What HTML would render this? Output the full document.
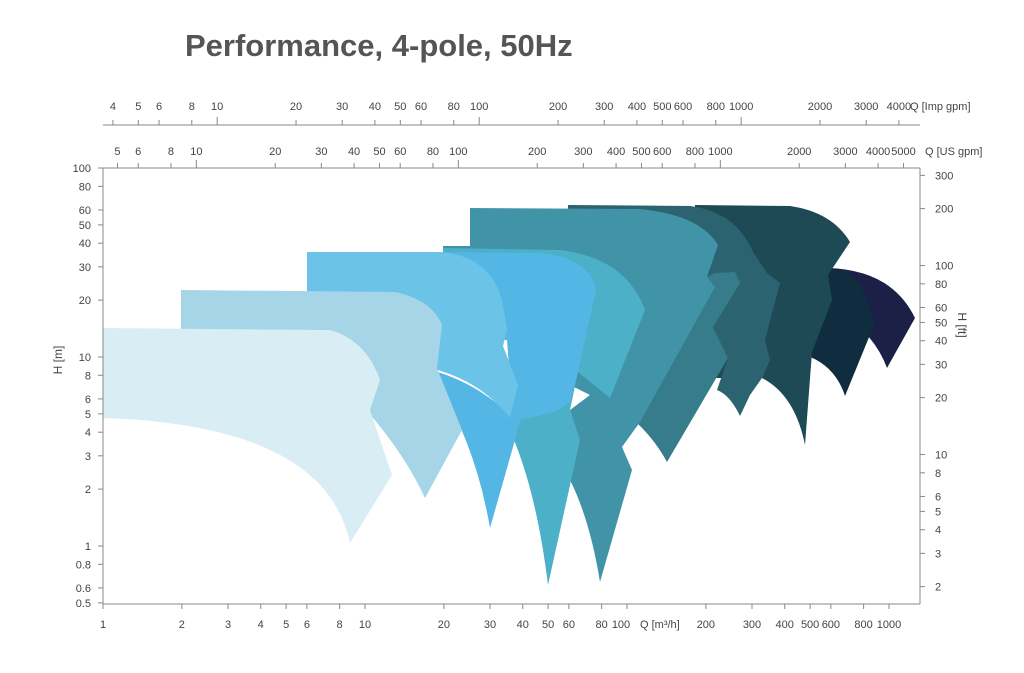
<!DOCTYPE html>
<html><head><meta charset="utf-8"><style>
body{margin:0;background:#fff;}
svg{display:block;font-family:"Liberation Sans",sans-serif;}
.t{font-size:11px;fill:#444;}
</style></head><body>
<svg width="1024" height="673" viewBox="0 0 1024 673" xmlns="http://www.w3.org/2000/svg">
<text x="185" y="56" style="font-size:31px;font-weight:bold;fill:#555">Performance, 4-pole, 50Hz</text>
<g stroke="none">
<path fill="#1c1f46" d="M828,268 Q892,270 915,318 L887,368 Q875,335 840,312 Z"/>
<path fill="#0f2d3f" d="M800,268 L845,270 Q866,285 874,325 L845,396 Q835,365 805,355 L790,320 Z"/>
<path fill="#1e4a55" d="M695,205 L790,206 Q832,212 850,242 L828,275 L832,300 L812,352 L805,445 Q795,395 762,378 L700,378 L695,268 Z"/>
<path fill="#2b6370" d="M568,205 L690,206 Q736,212 753,252 L767,273 L780,283 L765,340 L770,360 L762,378 L750,395 L740,416 Q730,395 717,390 L728,358 L713,327 L700,300 L568,300 Z"/>
<path fill="#367c8a" d="M637,423 L707,277 L715,273 L735,272 L740,283 L713,327 L728,358 L667,462 Q655,440 637,423 Z"/>
<path fill="#4194a8" d="M443,246 L470,246 L470,208 L640,209 Q700,215 718,245 L707,277 L715,287 L640,422 L622,447 L632,470 L600,582 Q590,520 570,480 L578,440 L570,410 L590,395 L560,380 L520,300 L443,300 Z"/>
<path fill="#4cb0c8" d="M443,248 L560,250 Q626,258 645,310 L610,398 L578,372 L570,410 L580,440 L548,585 Q535,480 505,420 L510,380 L505,300 L443,300 Z"/>
<path fill="#53b6e4" d="M410,252 L540,253 Q590,258 596,290 L578,372 L570,402 L555,412 L520,420 L515,440 L490,528 Q475,440 430,370 Q470,380 505,410 L510,380 L507,340 L410,340 Z"/>
<path fill="#6cc3e8" d="M307,252 L440,252 Q490,256 502,300 L507,330 L503,346 L518,385 L510,418 Q480,380 430,368 L307,368 Z"/>
<path fill="#a5d5e6" d="M181,290 L395,292 Q432,300 442,325 L437,368 L462,430 L425,498 Q405,455 368,412 L181,412 Z"/>
<path fill="#d9edf4" d="M103,328 L330,330 Q366,340 380,380 L370,410 L392,475 L350,543 Q325,425 103,418 Z"/>
</g>
<g stroke="#888" stroke-width="1" fill="none">
<line x1="103" y1="168" x2="103" y2="604"/>
<line x1="103" y1="604" x2="920" y2="604"/>
<line x1="920" y1="168" x2="920" y2="604"/>
<line x1="103" y1="168" x2="920" y2="168"/>
<line x1="103" y1="125" x2="920" y2="125"/>
</g>
<g id="ax"></g>
<text x="62" y="360" class="t" transform="rotate(-90 62 360)" text-anchor="middle" style="font-size:12px">H [m]</text>
<text x="958" y="325" class="t" transform="rotate(90 958 325)" text-anchor="middle" style="font-size:12px">H [ft]</text>
<script>
var g=document.getElementById('ax'),N='http://www.w3.org/2000/svg';
function L(x1,y1,x2,y2){var e=document.createElementNS(N,'line');e.setAttribute('x1',x1);e.setAttribute('y1',y1);e.setAttribute('x2',x2);e.setAttribute('y2',y2);e.setAttribute('stroke','#888');g.appendChild(e);}
function T(x,y,s,a){var e=document.createElementNS(N,'text');e.setAttribute('x',x);e.setAttribute('y',y);e.setAttribute('class','t');e.setAttribute('text-anchor',a||'middle');e.textContent=s;g.appendChild(e);}
var lg=Math.log10;
[100,80,60,50,40,30,20,10,8,6,5,4,3,2,1,0.8,0.6,0.5].forEach(function(v){var y=546-189*lg(v);L(98,y,103,y);T(91,y+4,String(v),'end');});
[1,2,3,4,5,6,8,10,20,30,40,50,60,80,100,200,300,400,500,600,800,1000].forEach(function(v){var x=103+262*lg(v);L(x,604,x,609);T(v==100?x-6:x,628,String(v));});
T(640,628,'Q [m\u00b3/h]','start');
[300,200,100,80,60,50,40,30,20,10,8,6,5,4,3,2].forEach(function(v){var y=546-189*lg(v/3.2808);L(920,y,925,y);T(935,y+4,String(v),'start');});
[5,6,8,10,20,30,40,50,60,80,100,200,300,400,500,600,800,1000,2000,3000,4000,5000].forEach(function(v){var x=103+262*lg(v/4.403);var d=(lg(v)%1===0);L(x,168,x,d?160:163);T(x,155,String(v));});
T(925,155,'Q [US gpm]','start');
[4,5,6,8,10,20,30,40,50,60,80,100,200,300,400,500,600,800,1000,2000,3000,4000].forEach(function(v){var x=103+262*lg(v/3.666);var d=(lg(v)%1===0);L(x,125,x,d?117:120);T(x,110,String(v));});
T(910,110,'Q [Imp gpm]','start');
</script>
</svg>
</body></html>
